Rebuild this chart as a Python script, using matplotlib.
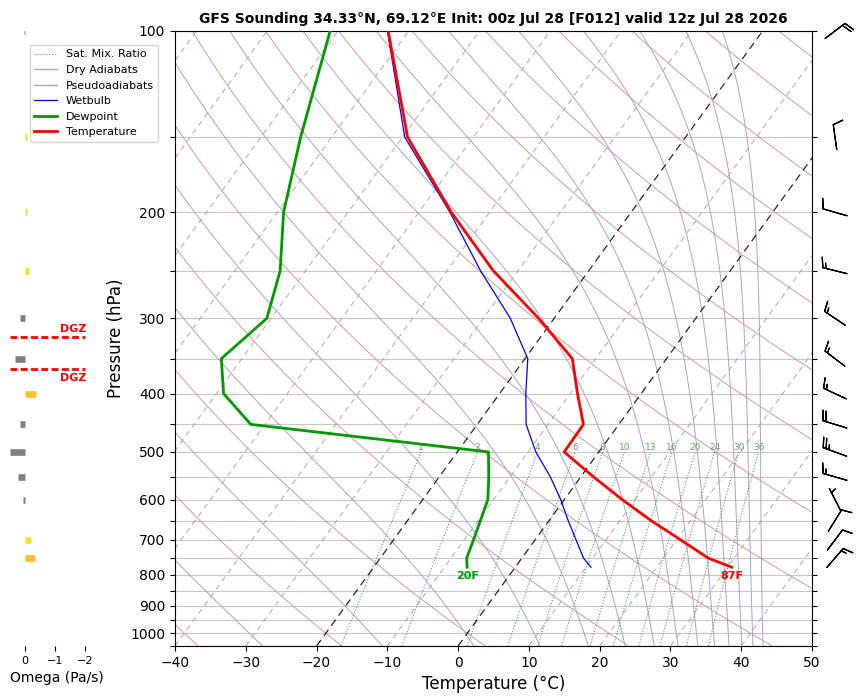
import numpy as np
import matplotlib
matplotlib.use('Agg')
import matplotlib.pyplot as plt
from matplotlib.transforms import Affine2D
from matplotlib.lines import Line2D
from matplotlib.ticker import NullLocator, NullFormatter

# ---------------- data ----------------
pressure = [777, 750, 700, 650, 600, 550, 500, 450, 400, 350, 300, 250, 200, 150, 100]
temperature = [30.6, 26.3, 20.6, 14.4, 8.2, 1.8, -4.9, -5.0, -9.0, -13.3, -22.2, -33.5, -45.4, -59.3, -72.9]
dewpoint = [-6.8, -7.8, -8.7, -9.7, -10.8, -13.0, -15.6, -52.0, -59.0, -62.9, -60.6, -63.6, -69.1, -74.4, -81.1]
wetbulb = [10.7, 8.7, 5.8, 2.7, -0.5, -4.3, -8.9, -13.1, -16.3, -19.6, -26.2, -35.3, -45.6, -59.7, -73.0]

wind_p = [100, 150, 200, 250, 300, 350, 400, 450, 500, 550, 600, 650, 700, 750]
wind_dir = [53, 352, 286, 284, 304, 307, 295, 287, 290, 286, 333, 32, 37, 41]
wind_spd = [20, 10, 10, 15, 15, 15, 15, 20, 25, 15, 5, 10, 10, 15]

omega_p = [100, 150, 200, 250, 300, 350, 400, 450, 500, 550, 600, 650, 700, 750]
omega = [0.02, -0.08, -0.06, -0.15, 0.15, 0.35, -0.37, 0.15, 0.5, 0.25, 0.07, 0.0, -0.2, -0.35]

mixing_ratios = [1, 2, 4, 6, 8, 10, 13, 16, 20, 24, 30, 36]          # g/kg
dry_thetas = [-40, -20, 0, 20, 40, 60, 80, 100, 120, 140, 160, 180, 200, 220]  # degC
pseudo_thetae = [-30, -10, 10, 30, 50, 70, 90, 110, 130, 150, 170, 190, 210, 230]  # degC
isotherms = [-130, -120, -110, -100, -90, -80, -70, -60, -50, -40, -30, -10, 10, 20, 30, 40, 50]
highlight_isotherms = [-20, 0]
dgz_bounds = [-12, -18]

title = "GFS Sounding 34.33°N, 69.12°E Init: 00z Jul 28 [F012] valid 12z Jul 28 2026"

# ---------------- figure ----------------
W, H = 858, 697
fig = plt.figure(figsize=(W / 100, H / 100), dpi=100)
L, R = 175 / W, 812 / W
B, T = 1 - 646 / H, 1 - 31 / H
ax = fig.add_axes([L, B, R - L, T - B])
ax.set_yscale('log')
ax.set_ylim(1050, 100)
ax.set_xlim(-40, 50)
skew = ax.transScale + (ax.transLimits + Affine2D().skew_deg(35, 0)) + ax.transAxes

yt = list(range(100, 1051, 50))
ax.set_yticks(yt)
ax.set_yticklabels([str(v) if v % 100 == 0 and v <= 1000 else '' for v in yt], fontsize=10)
ax.yaxis.set_minor_locator(NullLocator())
ax.yaxis.set_minor_formatter(NullFormatter())
ax.set_xticks(range(-40, 51, 10))
ax.tick_params(axis='x', labelsize=10)
ax.tick_params(axis='y', right=True)
ax.grid(True, axis='y', color='#c8c8c8', lw=0.9, zorder=0)
ax.set_axisbelow(True)
ax.set_xlabel('Temperature (°C)', fontsize=12)
ax.set_ylabel('Pressure (hPa)', fontsize=12)
ax.set_title(title, fontsize=10, fontweight='bold')

pfull = np.logspace(np.log10(1050), np.log10(100), 200)

DRY_C = '#d49a9a'
MOIST_C = '#a4a4d4'

# isotherms
for t in isotherms:
    ax.plot([t, t], [1050, 100], transform=skew, color='#999999', alpha=0.75, lw=0.8,
            linestyle=(0, (5, 4)), zorder=1)
for t in highlight_isotherms:
    ax.plot([t, t], [1050, 100], transform=skew, color='black', alpha=0.85, lw=0.9,
            linestyle=(0, (6, 4)), zorder=1.5)

# dry adiabats
for th in dry_thetas:
    tt = (th + 273.15) * (pfull / 1000.0) ** 0.2857 - 273.15
    ax.plot(tt, pfull, transform=skew, color=DRY_C, lw=0.7, zorder=1)

# pseudoadiabats (saturated theta-e, Bolton)
def theta_e_sat(tk, p):
    tc = tk - 273.15
    es = 6.112 * np.exp(17.67 * tc / (tc + 243.5))
    es = np.minimum(es, 0.5 * p)
    r = 622.0 * es / (p - es)
    return tk * (1000.0 / p) ** (0.2854 * (1 - 0.00028 * r)) * \
        np.exp((3.376 / tk - 0.00254) * r * (1 + 0.00081 * r))

targ = np.array(pseudo_thetae)[:, None] + 273.15
pp = np.broadcast_to(pfull[None, :], (len(pseudo_thetae), len(pfull)))
lo = np.full(pp.shape, 120.0)
hi = np.full(pp.shape, 345.0)
for _ in range(60):
    mid = 0.5 * (lo + hi)
    f = theta_e_sat(mid, pp)
    lo = np.where(f < targ, mid, lo)
    hi = np.where(f >= targ, mid, hi)
tmoist = 0.5 * (lo + hi) - 273.15
for row in tmoist:
    ax.plot(row, pfull, transform=skew, color=MOIST_C, lw=0.7, zorder=1)

# mixing ratio lines
pmix = np.logspace(np.log10(1050), np.log10(500), 60)
for w in mixing_ratios:
    e = (w / 1000.0) * pmix / (0.622 + w / 1000.0)
    lg = np.log(e / 6.112)
    td = 243.5 * lg / (17.67 - lg)
    ax.plot(td, pmix, transform=skew, color='#2e8b2e', alpha=0.8, lw=0.8,
            linestyle=':', zorder=1)
    ax.text(td[-1], 500, str(w), transform=skew, fontsize=6.5, color='#5fa55f',
            ha='center', va='bottom', zorder=2)

# profiles
ax.plot(wetbulb, pressure, transform=skew, color='blue', lw=0.9, zorder=4)
ax.plot(dewpoint, pressure, transform=skew, color='#009900', lw=2.0, zorder=5)
ax.plot(temperature, pressure, transform=skew, color='red', lw=2.0, zorder=6)

tf = round(temperature[0] * 9 / 5 + 32)
tdf = round(dewpoint[0] * 9 / 5 + 32)
ax.annotate(f"{tf}F", (temperature[0], pressure[0]), xycoords=skew, xytext=(0, -3),
            textcoords='offset points', ha='center', va='top', color='red',
            fontsize=8, fontweight='bold', zorder=7)
ax.annotate(f"{tdf}F", (dewpoint[0], pressure[0]), xycoords=skew, xytext=(0, -3),
            textcoords='offset points', ha='center', va='top', color='#009900',
            fontsize=8, fontweight='bold', zorder=7)

# ---------------- wind barbs ----------------
axb = fig.add_axes([R, B, 1 - R, T - B])
axb.set_yscale('log')
axb.set_ylim(1050, 100)
axb.set_xlim(0, 1)
axb.axis('off')
wd = np.deg2rad(np.array(wind_dir))
ws = np.array(wind_spd)
u = -ws * np.sin(wd)
v = -ws * np.cos(wd)
axb.barbs(np.full(len(wind_p), 0.5), wind_p, u, v, pivot='middle', length=6,
          lw=0.9, color='black', clip_on=False)

# ---------------- omega panel ----------------
axo = fig.add_axes([10 / W, B, 93 / W, T - B])
axo.set_yscale('log')
axo.set_ylim(1050, 100)
axo.set_xlim(0.5, -2.6)
for s in axo.spines.values():
    s.set_visible(False)
axo.set_yticks([])
axo.yaxis.set_minor_locator(NullLocator())
axo.set_xticks([0, -1, -2])
axo.tick_params(axis='x', labelsize=8)
axo.set_xlabel('Omega (Pa/s)', fontsize=10)
cols = []
for w in omega:
    if w >= 0:
        cols.append('#808080')
    elif w > -0.3:
        cols.append('#f5e11e')
    else:
        cols.append('#fbbe2e')
axo.hlines(omega_p, 0, omega, colors=cols, lw=4.8, capstyle='butt')

# DGZ from temperature profile
lp = np.log(np.array(pressure, dtype=float))
tarr = np.array(temperature)
dgz_p = []
for tb in dgz_bounds:
    idx = np.where((tarr[:-1] - tb) * (tarr[1:] - tb) <= 0)[0][0]
    frac = (tb - tarr[idx]) / (tarr[idx + 1] - tarr[idx])
    dgz_p.append(np.exp(lp[idx] + frac * (lp[idx + 1] - lp[idx])))
for i, pz in enumerate(dgz_p):
    axo.hlines(pz, 0.5, -2.0, colors='red', lw=2, linestyles=(0, (2.5, 1.2)))
    below = (i == 0)
    axo.annotate('DGZ', (-2.05, pz), xytext=(0, -2.5 if below else 2.5),
                 textcoords='offset points', color='red', fontsize=8,
                 fontweight='bold', ha='right', va='top' if below else 'bottom')

# ---------------- legend ----------------
handles = [
    Line2D([], [], color='#2e8b2e', alpha=0.8, lw=0.8, linestyle=':'),
    Line2D([], [], color=DRY_C, lw=1.0),
    Line2D([], [], color=MOIST_C, lw=1.0),
    Line2D([], [], color='blue', lw=0.9),
    Line2D([], [], color='#009900', lw=2.0),
    Line2D([], [], color='red', lw=2.0),
]
labels = ['Sat. Mix. Ratio', 'Dry Adiabats', 'Pseudoadiabats', 'Wetbulb', 'Dewpoint', 'Temperature']
fig.legend(handles, labels, loc='upper left', bbox_to_anchor=(30 / W, 1 - 45 / H),
           fontsize=8, labelspacing=0.5, borderaxespad=0)

fig.savefig('out.png', dpi=100)
